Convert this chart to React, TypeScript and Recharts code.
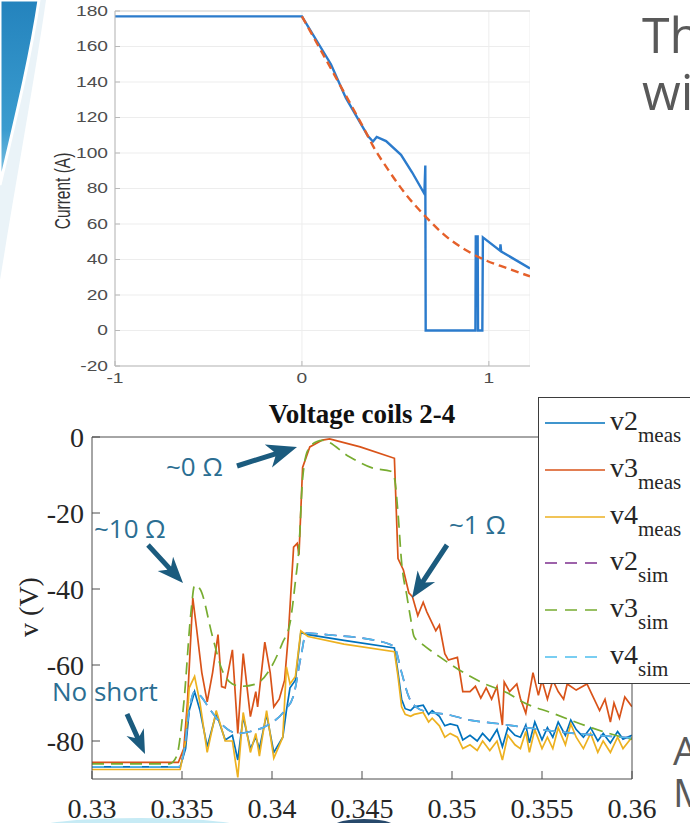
import { LineChart, Line, XAxis, YAxis, CartesianGrid } from 'recharts';

// ---- top plot: coil current (A) vs time
const currentTime = [-1, 0, 0.155, 0.235, 0.353, 0.38, 0.4, 0.45, 0.53, 0.59, 0.655, 0.66, 0.662, 0.665, 0.928, 0.93, 0.94, 0.942, 0.965, 0.968, 1.06, 1.062, 1.066, 1.22];
const currentMeas = [177, 177, 150, 131, 109.5, 106.5, 109, 106.7, 99, 89, 77, 93, 0, 0, 0, 53, 53, 0, 0, 52.5, 45, 48.5, 44.5, 35];
const currentSimTime = [0, 0.2, 0.353, 0.38, 0.46, 0.556, 0.66, 0.76, 0.888, 0.973, 1.1, 1.22];
const currentSim = [177, 139, 109.5, 104, 90.8, 76.7, 64.3, 54, 44.6, 40, 35, 30.5];
const currentXTicks = [-1, 0, 1];
const currentYTicks = [-20, 0, 20, 40, 60, 80, 100, 120, 140, 160, 180];

// ---- bottom plot: voltage coils 2-4
const voltXTicks = [0.33, 0.335, 0.34, 0.345, 0.35, 0.355, 0.36];
const voltYTicks = [-80, -60, -40, -20, 0];

const measTime = [0.33, 0.3349, 0.3352, 0.3354, 0.3357, 0.336, 0.3364, 0.3369, 0.3374, 0.3378, 0.3381, 0.3384, 0.3388, 0.3391, 0.3393, 0.3397, 0.3401, 0.3406, 0.3408, 0.341, 0.3413, 0.3416, 0.342, 0.344, 0.3468, 0.347, 0.3472, 0.3474, 0.3477, 0.3479, 0.3484, 0.3487, 0.3489, 0.3493, 0.3496, 0.3499, 0.3503, 0.3506, 0.351, 0.3514, 0.3517, 0.3521, 0.3525, 0.3528, 0.3531, 0.3535, 0.3538, 0.3541, 0.3543, 0.3546, 0.355, 0.3553, 0.3556, 0.3559, 0.3563, 0.3566, 0.3569, 0.3573, 0.3577, 0.3581, 0.3584, 0.3588, 0.3592, 0.3595, 0.36];
const v2Meas = [-86.8, -86.8, -82, -72, -67, -72, -81.5, -72.7, -79.7, -78.5, -85, -73.6, -82, -79, -82, -73, -83, -79, -72, -66, -64, -51.5, -52, -53.5, -55.5, -62, -69, -71.5, -72, -71, -70.6, -73, -72, -73.5, -76, -75.5, -76, -79.7, -78.5, -80, -78, -80, -77, -81.5, -76.5, -78.5, -79, -75.8, -80.5, -75, -79.7, -76.5, -79, -75, -78.5, -74.5, -77, -79, -76.5, -80, -78, -80.5, -77.5, -79.5, -78.5];
const v4Meas = [-87.5, -87.5, -80, -66, -63, -70, -83, -72, -80, -80, -89.6, -72.5, -83, -78, -84, -72, -84.5, -79, -60.5, -65, -63, -51, -52.5, -54.5, -56.5, -63, -71, -73, -73.5, -73, -72.5, -75, -74, -76, -79, -78, -79, -82, -81, -82.5, -80, -82.5, -80, -85, -78.5, -81, -82, -77.5, -83, -77, -82, -79, -82, -76.5, -81, -75.5, -79, -82, -78, -83, -80, -83, -79, -82, -79];

const v3Time = [0.33, 0.3348, 0.3351, 0.3353, 0.3356, 0.3358, 0.3361, 0.3364, 0.3367, 0.337, 0.3372, 0.3374, 0.3378, 0.3381, 0.3384, 0.3388, 0.3391, 0.3392, 0.3396, 0.3399, 0.3401, 0.3404, 0.3407, 0.3409, 0.3412, 0.3414, 0.3415, 0.3417, 0.3421, 0.3428, 0.3432, 0.3449, 0.3468, 0.347, 0.3473, 0.3476, 0.3478, 0.3481, 0.3484, 0.3486, 0.3491, 0.3493, 0.3496, 0.3498, 0.3503, 0.3506, 0.351, 0.3513, 0.3516, 0.3519, 0.3522, 0.3525, 0.3528, 0.3529, 0.3532, 0.3536, 0.3538, 0.3541, 0.3545, 0.3548, 0.355, 0.3553, 0.3556, 0.3559, 0.3562, 0.3564, 0.3569, 0.3575, 0.3578, 0.3582, 0.3585, 0.3588, 0.359, 0.3593, 0.3596, 0.36];
const v3Meas = [-85.6, -85.6, -82, -70, -42.4, -50, -62, -69.7, -62, -52, -65.7, -66, -56, -78, -57, -73.6, -67, -71, -54, -62, -71, -69, -64, -52.6, -29, -28, -31, -8, -2.6, -0.8, -0.5, -2.6, -5.6, -32, -35, -41, -42, -47, -43.5, -46, -51, -49.5, -57, -58.7, -58, -67, -67, -65.6, -68.7, -66, -69, -65.7, -75.8, -64.5, -67, -65, -68.8, -72.7, -62, -68, -64, -69, -64, -67, -69, -65, -66.6, -65, -68, -72, -69, -75, -70, -74, -68.4, -71];

const simTime3 = [0.33, 0.3343, 0.3347, 0.3351, 0.3355, 0.3357, 0.336, 0.3367, 0.3372, 0.3378, 0.3383, 0.3391, 0.3399, 0.3406, 0.341, 0.3413, 0.3415, 0.3417, 0.342, 0.3425, 0.3428, 0.3443, 0.3456, 0.3466, 0.3468, 0.347, 0.3472, 0.3475, 0.3477, 0.3479, 0.3484, 0.3493, 0.3504, 0.3517, 0.3531, 0.3539, 0.3556, 0.3578, 0.3595, 0.36];
const v3Sim = [-86, -86, -84, -70, -46, -39, -40, -52.6, -61, -65, -65.6, -65, -61, -54, -49, -38, -29, -11, -3.4, -1.2, -0.9, -5.2, -8.2, -9, -10.8, -20, -33, -42, -47.7, -52.6, -54.7, -57.8, -61.3, -64.7, -67.4, -69.7, -72.7, -76.6, -79, -79.5];

const simTime24 = [0.33, 0.3348, 0.3351, 0.3354, 0.3357, 0.336, 0.3366, 0.3373, 0.3381, 0.3388, 0.3397, 0.3407, 0.3412, 0.3416, 0.3419, 0.343, 0.3462, 0.3468, 0.3472, 0.3476, 0.348, 0.3486, 0.3497, 0.351, 0.3525, 0.3537, 0.356, 0.3578, 0.36];
const v2Sim = [-86.8, -86.8, -83, -72, -67, -68, -72, -76, -78, -77.5, -76, -72, -68, -58, -51.6, -52, -54, -55.3, -62, -68.4, -71, -72.3, -73, -74.5, -75.4, -76.2, -77.6, -78.4, -79.2];
const v4Sim = [-86.8, -86.8, -83, -72, -67, -68, -72, -76, -78, -77.5, -76, -72, -68, -58, -51.6, -52, -54, -55.3, -62, -68.4, -71, -72.3, -73, -74.5, -75.4, -76.2, -77.6, -78.4, -79.2];

const pts = (ts: number[], vs: number[]) => ts.map((t, i) => ({ t, v: vs[i] }));

const voltSeries = [
  { id: 'v2meas', name: 'v2', sub: 'meas', color: '#0072bd', dashed: false, data: pts(measTime, v2Meas) },
  { id: 'v3meas', name: 'v3', sub: 'meas', color: '#d95319', dashed: false, data: pts(v3Time, v3Meas) },
  { id: 'v4meas', name: 'v4', sub: 'meas', color: '#edb120', dashed: false, data: pts(measTime, v4Meas) },
  { id: 'v2sim', name: 'v2', sub: 'sim', color: '#7e2f8e', dashed: true, data: pts(simTime24, v2Sim) },
  { id: 'v3sim', name: 'v3', sub: 'sim', color: '#77ac30', dashed: true, data: pts(simTime3, v3Sim) },
  { id: 'v4sim', name: 'v4', sub: 'sim', color: '#4dbeee', dashed: true, data: pts(simTime24, v4Sim) },
];

const SERIF = '"Liberation Serif", "Times New Roman", serif';
const SANS = '"Liberation Sans", Arial, sans-serif';
const SLIDE = '"Open Sans", "Noto Sans", sans-serif';
const STRETCH = 1.37; // the top figure is squeezed horizontally in the slide

function stretchTickX(p: any) {
  return (
    <text transform={`translate(${p.x},${p.y}) scale(${STRETCH},1)`} textAnchor="middle" dy="0.71em"
      fontSize={14} fill="#4d4d4d" fontFamily={SANS}>{p.payload.value}</text>
  );
}

function stretchTickY(p: any) {
  return (
    <text transform={`translate(${p.x},${p.y}) scale(${STRETCH},1)`} textAnchor="end" dy="0.355em"
      fontSize={14} fill="#4d4d4d" fontFamily={SANS}>{p.payload.value}</text>
  );
}

function CurrentChart() {
  return (
    <LineChart width={530} height={392} margin={{ top: 10, right: 0, bottom: 0, left: 0 }}>
      <CartesianGrid stroke="#ededed" />
      <XAxis dataKey="t" type="number" domain={[-1, 1.22]} ticks={currentXTicks} interval={0} allowDataOverflow
        height={26} tickSize={-5} tickMargin={12} tick={stretchTickX}
        axisLine={{ stroke: '#b8b8b8' }} tickLine={{ stroke: '#b8b8b8' }} />
      <XAxis xAxisId="top" orientation="top" type="number" domain={[-1, 1.22]} ticks={currentXTicks} interval={0}
        allowDataOverflow height={1} tickSize={-5} tick={false}
        axisLine={{ stroke: '#d4d4d4' }} tickLine={{ stroke: '#d4d4d4' }} />
      <YAxis type="number" domain={[-20, 180]} ticks={currentYTicks} interval={0} allowDataOverflow
        width={115} tickSize={-5} tickMargin={12} tick={stretchTickY}
        axisLine={{ stroke: '#b8b8b8' }} tickLine={{ stroke: '#b8b8b8' }} />
      <Line data={pts(currentTime, currentMeas)} dataKey="v" type="linear" stroke="#2b7bcc" strokeWidth={2.4}
        dot={false} isAnimationActive={false} />
      <Line data={pts(currentSimTime, currentSim)} dataKey="v" type="monotone" stroke="#e5602a" strokeWidth={2.4}
        strokeDasharray="8 5" dot={false} isAnimationActive={false} />
    </LineChart>
  );
}

function VoltageChart() {
  const axisColor = '#4d4d4d';
  const tickFont = { fontSize: 28, fill: '#262626', fontFamily: SERIF };
  return (
    <LineChart width={670} height={434} margin={{ top: 46, right: 37, bottom: 0, left: 0 }}>
      <XAxis dataKey="t" type="number" domain={[0.33, 0.36]} ticks={voltXTicks} interval={0} allowDataOverflow
        height={45} tickSize={-8} tickMargin={27} tick={tickFont}
        axisLine={{ stroke: axisColor }} tickLine={{ stroke: axisColor }} />
      <XAxis xAxisId="top" orientation="top" type="number" domain={[0.33, 0.36]} ticks={voltXTicks} interval={0}
        allowDataOverflow height={1} tickSize={-8} tick={false}
        axisLine={{ stroke: axisColor }} tickLine={{ stroke: axisColor }} />
      <YAxis type="number" domain={[-90, 0]} ticks={voltYTicks} interval={0} allowDataOverflow
        width={92} tickSize={-8} tickMargin={16} tick={tickFont}
        axisLine={{ stroke: axisColor }} tickLine={{ stroke: axisColor }} />
      <YAxis yAxisId="right" orientation="right" type="number" domain={[-90, 0]} ticks={voltYTicks} interval={0}
        allowDataOverflow width={1} tickSize={-8} tick={false}
        axisLine={{ stroke: axisColor }} tickLine={{ stroke: axisColor }} />
      {voltSeries.map((s) => (
        <Line key={s.id} data={s.data} dataKey="v" type={s.dashed ? 'monotone' : 'linear'} stroke={s.color}
          strokeWidth={1.7} strokeDasharray={s.dashed ? '12 7' : undefined} dot={false} isAnimationActive={false} />
      ))}
    </LineChart>
  );
}

// arrow outline with a notched head, tail -> tip
function arrowPath(x1: number, y1: number, x2: number, y2: number, w = 5, len = 24, head = 20) {
  const d = Math.hypot(x2 - x1, y2 - y1);
  const ux = (x2 - x1) / d, uy = (y2 - y1) / d;
  const nx = -uy, ny = ux;
  const bx = x2 - ux * len, by = y2 - uy * len;
  const kx = x2 - ux * len * 0.78, ky = y2 - uy * len * 0.78;
  const p = [
    [x1 + nx * w / 2, y1 + ny * w / 2], [kx + nx * w / 2, ky + ny * w / 2], [bx + nx * head / 2, by + ny * head / 2],
    [x2, y2], [bx - nx * head / 2, by - ny * head / 2], [kx - nx * w / 2, ky - ny * w / 2], [x1 - nx * w / 2, y1 - ny * w / 2],
  ];
  return 'M' + p.map((q) => q[0].toFixed(1) + ',' + q[1].toFixed(1)).join('L') + 'Z';
}

const notes = [
  { text: '~0 Ω', x: 166, y: 476, arrow: [237, 466, 297, 447, 30, 24] },
  { text: '~10 Ω', x: 94, y: 538, arrow: [148, 545, 183, 583, 26, 21] },
  { text: '~1 Ω', x: 449, y: 534, arrow: [447, 545, 412, 598, 26, 21] },
  { text: 'No short', x: 52, y: 701, arrow: [127, 714, 145, 754, 24, 19] },
];

const legendRows = [423, 470, 517, 563, 610, 657];

export default function App() {
  return (
    <div style={{ position: 'absolute', left: 0, top: 0, width: 690, height: 823, overflow: 'hidden', background: '#fff' }}>
      <svg width={690} height={823} style={{ position: 'absolute', left: 0, top: 0 }}>
        <defs>
          <linearGradient id="swoosh" x1="0" y1="0" x2="0" y2="1">
            <stop offset="0" stopColor="#2483bd" />
            <stop offset="0.7" stopColor="#3a9ccf" />
            <stop offset="1" stopColor="#8cc8e6" />
          </linearGradient>
        </defs>
        <path d="M0,0 L46,0 C36,70 18,170 0,280 Z" fill="#eaf3f8" />
        <path d="M0,0 L39,0 C30,60 14,125 0,185 Z" fill="url(#swoosh)" stroke="#ffffff" strokeWidth={3} />
        <ellipse cx={140} cy={827} rx={100} ry={9} fill="#c7ebf5" />
        <ellipse cx={364} cy={826} rx={30} ry={7} fill="#27496b" />
      </svg>

      <div style={{ position: 'absolute', left: 0, top: 0 }}>
        <CurrentChart />
      </div>
      <div style={{ position: 'absolute', left: 0, top: 390 }}>
        <VoltageChart />
      </div>

      <svg width={690} height={823} style={{ position: 'absolute', left: 0, top: 0, pointerEvents: 'none' }}>
        <text transform={`translate(70,191) rotate(-90) scale(1,${STRETCH})`} textAnchor="middle" fontSize={15.5}
          fill="#333" fontFamily={SANS}>Current (A)</text>

        <text x={362} y={423} textAnchor="middle" fontSize={27} fontWeight="bold" fill="#111" fontFamily={SERIF}>
          Voltage coils 2-4
        </text>
        <text transform="translate(38,607) rotate(-90)" textAnchor="middle" fontSize={28} fill="#262626"
          fontFamily={SERIF}>v (V)</text>

        {notes.map((n) => (
          <g key={n.text}>
            <text x={n.x} y={n.y} fontSize={26} fill="#2b6e92" fontFamily={SLIDE}>{n.text}</text>
            <path d={arrowPath(n.arrow[0], n.arrow[1], n.arrow[2], n.arrow[3], 5, n.arrow[4], n.arrow[5])} fill="#1b5b7e" />
          </g>
        ))}

        <rect x={538.5} y={397.5} width={200} height={286} fill="#fff" stroke="#3d3d3d" strokeWidth={1} />
        {voltSeries.map((s, i) => (
          <g key={s.id}>
            <line x1={545} x2={605} y1={legendRows[i]} y2={legendRows[i]} stroke={s.color} strokeWidth={1.7}
              strokeDasharray={s.dashed ? '12 8' : undefined} />
            <text x={610} y={legendRows[i] + 7} fontSize={28} fill="#262626" fontFamily={SERIF}>
              {s.name}
              <tspan dy={12} fontSize={21}>{s.sub}</tspan>
            </text>
          </g>
        ))}

        <text x={642} y={53} fontSize={50} fill="#595959" fontFamily={SLIDE}>Th</text>
        <text x={642} y={110} fontSize={50} fill="#595959" fontFamily={SLIDE}>wi</text>
        <text x={673} y={765} fontSize={39} fill="#595959" fontFamily={SLIDE}>A</text>
        <text x={673} y={807} fontSize={39} fill="#595959" fontFamily={SLIDE}>M</text>
      </svg>
    </div>
  );
}
